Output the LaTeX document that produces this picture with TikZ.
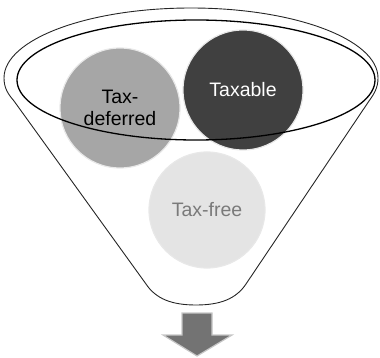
\documentclass[tikz,border=0pt]{standalone}
\usepackage{fontspec}
\setmainfont{Liberation Sans}
\usepackage{xcolor}
\usetikzlibrary{positioning}
\definecolor{deferredfill}{HTML}{A6A6A6}
\definecolor{taxablefill}{HTML}{404040}
\definecolor{freefill}{HTML}{E4E4E4}
\definecolor{freetext}{HTML}{7A7A7A}
\definecolor{arrowfill}{HTML}{737373}

\begin{document}
\begin{tikzpicture}[x=1pt, y=-1pt, font=\fontsize{19.5}{22}\selectfont]
\tikzset{bubble/.style={circle, draw=white!82!gray, line width=1.2pt, minimum size=120pt, inner sep=0pt, align=center}}
\useasboundingbox (0,0) rectangle (380,358);
% funnel body
\draw[line width=0.9pt, black!85] (4,78) arc[start angle=180, end angle=360, x radius=187, y radius=70]
  .. controls (378,88) and (374,94) .. (369,101) -- (246,284)
  .. controls (236,299) and (220,305) .. (196,305)
  .. controls (172,305) and (156,299) .. (146,284) -- (14,101)
  .. controls (8,94) and (4,88) .. (4,78);
\node[bubble, fill=deferredfill] (deferred) at (120,108) {Tax-\\deferred};
\node[bubble, fill=taxablefill, text=white] (taxable) at (243,90) {Taxable};
\node[bubble, fill=freefill, text=freetext, minimum size=116pt] (free) at (207,210) {Tax-free};
% rim of the funnel
\draw[line width=1.3pt] (196,80) ellipse[x radius=179, y radius=60];
% outflow arrow
\draw[fill=arrowfill, draw=gray!45, line width=1.2pt, line join=miter]
  (182,313) -- (212,313) -- (212,335) -- (232,335) -- (197,356) -- (163,335) -- (182,335) -- cycle;
\end{tikzpicture}
\end{document}
